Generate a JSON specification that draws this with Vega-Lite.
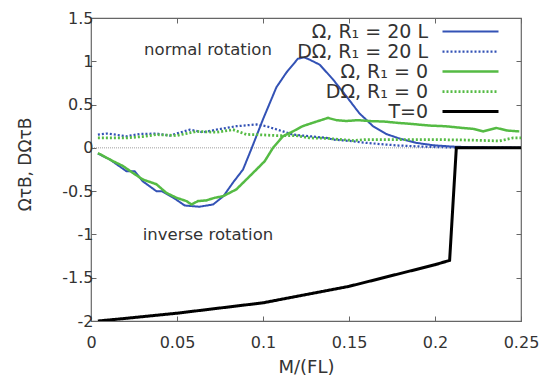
{
  "$schema": "https://vega.github.io/schema/vega-lite/v6.json",
  "width": 430,
  "height": 303,
  "autosize": {"type": "none"},
  "padding": {"left": 91, "top": 18, "right": 23, "bottom": 57},
  "background": "white",
  "config": {
    "view": {"stroke": "#666", "strokeWidth": 1.2},
    "font": "DejaVu Sans",
    "axis": {
      "domain": false,
      "grid": false,
      "tickColor": "#666",
      "tickSize": -5,
      "labelFont": "DejaVu Sans",
      "labelFontSize": 16,
      "labelColor": "#333",
      "titleFont": "DejaVu Sans",
      "titleColor": "#333",
      "titleFontWeight": "normal"
    }
  },
  "datasets": {
    "lines": [
      {"s": "Ω, R₁ = 20 L", "x": 0.004, "y": -0.066},
      {"s": "Ω, R₁ = 20 L", "x": 0.011, "y": -0.135},
      {"s": "Ω, R₁ = 20 L", "x": 0.0206, "y": -0.27},
      {"s": "Ω, R₁ = 20 L", "x": 0.0254, "y": -0.27},
      {"s": "Ω, R₁ = 20 L", "x": 0.030, "y": -0.385},
      {"s": "Ω, R₁ = 20 L", "x": 0.038, "y": -0.50},
      {"s": "Ω, R₁ = 20 L", "x": 0.041, "y": -0.50},
      {"s": "Ω, R₁ = 20 L", "x": 0.048, "y": -0.577},
      {"s": "Ω, R₁ = 20 L", "x": 0.0545, "y": -0.666},
      {"s": "Ω, R₁ = 20 L", "x": 0.063, "y": -0.68},
      {"s": "Ω, R₁ = 20 L", "x": 0.071, "y": -0.654},
      {"s": "Ω, R₁ = 20 L", "x": 0.077, "y": -0.558},
      {"s": "Ω, R₁ = 20 L", "x": 0.0826, "y": -0.40},
      {"s": "Ω, R₁ = 20 L", "x": 0.0884, "y": -0.25},
      {"s": "Ω, R₁ = 20 L", "x": 0.0935, "y": 0.0},
      {"s": "Ω, R₁ = 20 L", "x": 0.100, "y": 0.33},
      {"s": "Ω, R₁ = 20 L", "x": 0.1078, "y": 0.70},
      {"s": "Ω, R₁ = 20 L", "x": 0.1136, "y": 0.87},
      {"s": "Ω, R₁ = 20 L", "x": 0.1203, "y": 1.03},
      {"s": "Ω, R₁ = 20 L", "x": 0.124, "y": 1.045},
      {"s": "Ω, R₁ = 20 L", "x": 0.127, "y": 1.02},
      {"s": "Ω, R₁ = 20 L", "x": 0.133, "y": 0.96},
      {"s": "Ω, R₁ = 20 L", "x": 0.1407, "y": 0.79},
      {"s": "Ω, R₁ = 20 L", "x": 0.1485, "y": 0.595},
      {"s": "Ω, R₁ = 20 L", "x": 0.156, "y": 0.40},
      {"s": "Ω, R₁ = 20 L", "x": 0.164, "y": 0.25},
      {"s": "Ω, R₁ = 20 L", "x": 0.1716, "y": 0.16},
      {"s": "Ω, R₁ = 20 L", "x": 0.179, "y": 0.11},
      {"s": "Ω, R₁ = 20 L", "x": 0.189, "y": 0.058},
      {"s": "Ω, R₁ = 20 L", "x": 0.199, "y": 0.03},
      {"s": "Ω, R₁ = 20 L", "x": 0.21, "y": 0.015},
      {"s": "Ω, R₁ = 20 L", "x": 0.22, "y": 0.008},
      {"s": "Ω, R₁ = 20 L", "x": 0.235, "y": 0.004},
      {"s": "Ω, R₁ = 20 L", "x": 0.25, "y": 0.002},

      {"s": "DΩ, R₁ = 20 L", "x": 0.004, "y": 0.153},
      {"s": "DΩ, R₁ = 20 L", "x": 0.009, "y": 0.165},
      {"s": "DΩ, R₁ = 20 L", "x": 0.015, "y": 0.15},
      {"s": "DΩ, R₁ = 20 L", "x": 0.0206, "y": 0.134},
      {"s": "DΩ, R₁ = 20 L", "x": 0.0283, "y": 0.16},
      {"s": "DΩ, R₁ = 20 L", "x": 0.038, "y": 0.165},
      {"s": "DΩ, R₁ = 20 L", "x": 0.0457, "y": 0.142},
      {"s": "DΩ, R₁ = 20 L", "x": 0.0574, "y": 0.21},
      {"s": "DΩ, R₁ = 20 L", "x": 0.0651, "y": 0.18},
      {"s": "DΩ, R₁ = 20 L", "x": 0.0729, "y": 0.21},
      {"s": "DΩ, R₁ = 20 L", "x": 0.0845, "y": 0.25},
      {"s": "DΩ, R₁ = 20 L", "x": 0.0962, "y": 0.27},
      {"s": "DΩ, R₁ = 20 L", "x": 0.102, "y": 0.25},
      {"s": "DΩ, R₁ = 20 L", "x": 0.1116, "y": 0.19},
      {"s": "DΩ, R₁ = 20 L", "x": 0.1174, "y": 0.153},
      {"s": "DΩ, R₁ = 20 L", "x": 0.123, "y": 0.142},
      {"s": "DΩ, R₁ = 20 L", "x": 0.137, "y": 0.115},
      {"s": "DΩ, R₁ = 20 L", "x": 0.1407, "y": 0.096},
      {"s": "DΩ, R₁ = 20 L", "x": 0.1523, "y": 0.077},
      {"s": "DΩ, R₁ = 20 L", "x": 0.16, "y": 0.058},
      {"s": "DΩ, R₁ = 20 L", "x": 0.17, "y": 0.04},
      {"s": "DΩ, R₁ = 20 L", "x": 0.179, "y": 0.027},
      {"s": "DΩ, R₁ = 20 L", "x": 0.189, "y": 0.018},
      {"s": "DΩ, R₁ = 20 L", "x": 0.199, "y": 0.01},
      {"s": "DΩ, R₁ = 20 L", "x": 0.21, "y": 0.005},
      {"s": "DΩ, R₁ = 20 L", "x": 0.25, "y": 0.0},

      {"s": "Ω, R₁ = 0", "x": 0.004, "y": -0.06},
      {"s": "Ω, R₁ = 0", "x": 0.0128, "y": -0.154},
      {"s": "Ω, R₁ = 0", "x": 0.0186, "y": -0.21},
      {"s": "Ω, R₁ = 0", "x": 0.0244, "y": -0.29},
      {"s": "Ω, R₁ = 0", "x": 0.0302, "y": -0.366},
      {"s": "Ω, R₁ = 0", "x": 0.038, "y": -0.42},
      {"s": "Ω, R₁ = 0", "x": 0.0438, "y": -0.52},
      {"s": "Ω, R₁ = 0", "x": 0.0497, "y": -0.577},
      {"s": "Ω, R₁ = 0", "x": 0.0555, "y": -0.615},
      {"s": "Ω, R₁ = 0", "x": 0.0584, "y": -0.654},
      {"s": "Ω, R₁ = 0", "x": 0.0622, "y": -0.615},
      {"s": "Ω, R₁ = 0", "x": 0.067, "y": -0.607},
      {"s": "Ω, R₁ = 0", "x": 0.0719, "y": -0.577},
      {"s": "Ω, R₁ = 0", "x": 0.0768, "y": -0.558},
      {"s": "Ω, R₁ = 0", "x": 0.0845, "y": -0.48},
      {"s": "Ω, R₁ = 0", "x": 0.0903, "y": -0.366},
      {"s": "Ω, R₁ = 0", "x": 0.0962, "y": -0.25},
      {"s": "Ω, R₁ = 0", "x": 0.101, "y": -0.154},
      {"s": "Ω, R₁ = 0", "x": 0.1058, "y": 0.0},
      {"s": "Ω, R₁ = 0", "x": 0.1116, "y": 0.134},
      {"s": "Ω, R₁ = 0", "x": 0.1174, "y": 0.19},
      {"s": "Ω, R₁ = 0", "x": 0.123, "y": 0.25},
      {"s": "Ω, R₁ = 0", "x": 0.129, "y": 0.29},
      {"s": "Ω, R₁ = 0", "x": 0.1378, "y": 0.346},
      {"s": "Ω, R₁ = 0", "x": 0.1427, "y": 0.32},
      {"s": "Ω, R₁ = 0", "x": 0.1485, "y": 0.31},
      {"s": "Ω, R₁ = 0", "x": 0.155, "y": 0.32},
      {"s": "Ω, R₁ = 0", "x": 0.164, "y": 0.307},
      {"s": "Ω, R₁ = 0", "x": 0.17, "y": 0.305},
      {"s": "Ω, R₁ = 0", "x": 0.1776, "y": 0.29},
      {"s": "Ω, R₁ = 0", "x": 0.187, "y": 0.275},
      {"s": "Ω, R₁ = 0", "x": 0.197, "y": 0.257},
      {"s": "Ω, R₁ = 0", "x": 0.206, "y": 0.25},
      {"s": "Ω, R₁ = 0", "x": 0.216, "y": 0.23},
      {"s": "Ω, R₁ = 0", "x": 0.222, "y": 0.22},
      {"s": "Ω, R₁ = 0", "x": 0.228, "y": 0.19},
      {"s": "Ω, R₁ = 0", "x": 0.2357, "y": 0.23},
      {"s": "Ω, R₁ = 0", "x": 0.242, "y": 0.2},
      {"s": "Ω, R₁ = 0", "x": 0.249, "y": 0.19},

      {"s": "DΩ, R₁ = 0", "x": 0.004, "y": 0.115},
      {"s": "DΩ, R₁ = 0", "x": 0.0206, "y": 0.115},
      {"s": "DΩ, R₁ = 0", "x": 0.03, "y": 0.13},
      {"s": "DΩ, R₁ = 0", "x": 0.038, "y": 0.153},
      {"s": "DΩ, R₁ = 0", "x": 0.0497, "y": 0.142},
      {"s": "DΩ, R₁ = 0", "x": 0.0613, "y": 0.19},
      {"s": "DΩ, R₁ = 0", "x": 0.0729, "y": 0.18},
      {"s": "DΩ, R₁ = 0", "x": 0.0826, "y": 0.21},
      {"s": "DΩ, R₁ = 0", "x": 0.0903, "y": 0.155},
      {"s": "DΩ, R₁ = 0", "x": 0.0962, "y": 0.153},
      {"s": "DΩ, R₁ = 0", "x": 0.1078, "y": 0.142},
      {"s": "DΩ, R₁ = 0", "x": 0.119, "y": 0.142},
      {"s": "DΩ, R₁ = 0", "x": 0.127, "y": 0.115},
      {"s": "DΩ, R₁ = 0", "x": 0.137, "y": 0.11},
      {"s": "DΩ, R₁ = 0", "x": 0.1407, "y": 0.104},
      {"s": "DΩ, R₁ = 0", "x": 0.1523, "y": 0.085},
      {"s": "DΩ, R₁ = 0", "x": 0.16, "y": 0.096},
      {"s": "DΩ, R₁ = 0", "x": 0.18, "y": 0.096},
      {"s": "DΩ, R₁ = 0", "x": 0.199, "y": 0.096},
      {"s": "DΩ, R₁ = 0", "x": 0.22, "y": 0.09},
      {"s": "DΩ, R₁ = 0", "x": 0.2376, "y": 0.08},
      {"s": "DΩ, R₁ = 0", "x": 0.2454, "y": 0.115},
      {"s": "DΩ, R₁ = 0", "x": 0.25, "y": 0.115},

      {"s": "T=0", "x": 0.004, "y": -2.0},
      {"s": "T=0", "x": 0.02, "y": -1.97},
      {"s": "T=0", "x": 0.05, "y": -1.91},
      {"s": "T=0", "x": 0.1, "y": -1.79},
      {"s": "T=0", "x": 0.15, "y": -1.60},
      {"s": "T=0", "x": 0.2, "y": -1.35},
      {"s": "T=0", "x": 0.2085, "y": -1.30},
      {"s": "T=0", "x": 0.2124, "y": 0.0},
      {"s": "T=0", "x": 0.25, "y": 0.0}
    ],
    "notes": [
      {"label": "normal rotation", "x": 0.068, "y": 1.07},
      {"label": "inverse rotation", "x": 0.068, "y": -1.07}
    ]
  },
  "layer": [
    {
      "data": {"values": [{"z": 0}]},
      "mark": {"type": "rule", "color": "#888", "strokeWidth": 0.8, "strokeDash": [1, 1]},
      "encoding": {"y": {"field": "z", "type": "quantitative", "axis": null}}
    },
    {
      "data": {"name": "lines"},
      "mark": {"type": "line", "clip": true},
      "encoding": {
        "x": {
          "field": "x", "type": "quantitative",
          "scale": {"domain": [0, 0.25], "nice": false, "zero": false},
          "axis": {"orient": "bottom", "values": [0, 0.05, 0.1, 0.15, 0.2, 0.25], "title": "M/(FL)", "titleFontSize": 18, "titleY": 51, "titleBaseline": "alphabetic", "labelPadding": 18, "labelFlush": false, "labelExpr": "replace(format(datum.value, '~g'), '−', '-')"}
        },
        "y": {
          "field": "y", "type": "quantitative",
          "scale": {"domain": [-2, 1.5], "nice": false, "zero": false},
          "axis": {"orient": "left", "values": [-2, -1.5, -1, -0.5, 0, 0.5, 1, 1.5], "title": "ΩτB, DΩτB", "titleFontSize": 17, "titleX": -66, "titleY": 146, "titleBaseline": "middle", "labelPadding": 3, "labelExpr": "replace(format(datum.value, '~g'), '−', '-')"}
        },
        "color": {
          "field": "s", "type": "nominal",
          "scale": {"domain": ["Ω, R₁ = 20 L", "DΩ, R₁ = 20 L", "Ω, R₁ = 0", "DΩ, R₁ = 0", "T=0"], "range": ["#3352b5", "#3352b5", "#55bb44", "#55bb44", "#000000"]},
          "legend": {
            "title": null, "orient": "none", "legendX": 370, "legendY": 4, "padding": 0,
            "symbolType": "M-3.5,0H3.5", "symbolSize": 256, "labelAlign": "right", "labelOffset": -52,
            "labelFontSize": 19, "labelColor": "#333", "labelFont": "DejaVu Sans", "labelLimit": 300,
            "rowPadding": -1.5, "fillColor": null
          }
        },
        "strokeDash": {
          "field": "s", "type": "nominal",
          "scale": {"domain": ["Ω, R₁ = 20 L", "DΩ, R₁ = 20 L", "Ω, R₁ = 0", "DΩ, R₁ = 0", "T=0"], "range": [[1, 0], [2, 2], [1, 0], [2, 2], [1, 0]]}
        },
        "strokeWidth": {
          "field": "s", "type": "nominal",
          "scale": {"domain": ["Ω, R₁ = 20 L", "DΩ, R₁ = 20 L", "Ω, R₁ = 0", "DΩ, R₁ = 0", "T=0"], "range": [2, 3, 2, 3, 3.5]}
        }
      }
    },
    {
      "data": {"name": "notes"},
      "mark": {"type": "text", "fontSize": 16.5, "color": "#333", "font": "DejaVu Sans", "baseline": "alphabetic"},
      "encoding": {
        "x": {"field": "x", "type": "quantitative", "axis": null},
        "y": {"field": "y", "type": "quantitative", "axis": null},
        "text": {"field": "label"}
      }
    },
    {
      "data": {"name": "notes"},
      "mark": {"type": "point", "opacity": 0},
      "encoding": {
        "x": {"field": "x", "type": "quantitative", "axis": {"orient": "top", "labels": false, "title": null, "values": [0, 0.05, 0.1, 0.15, 0.2, 0.25]}},
        "y": {"field": "y", "type": "quantitative", "axis": {"orient": "right", "labels": false, "title": null, "values": [-2, -1.5, -1, -0.5, 0, 0.5, 1, 1.5]}}
      }
    }
  ],
  "resolve": {"axis": {"x": "independent", "y": "independent"}}
}
